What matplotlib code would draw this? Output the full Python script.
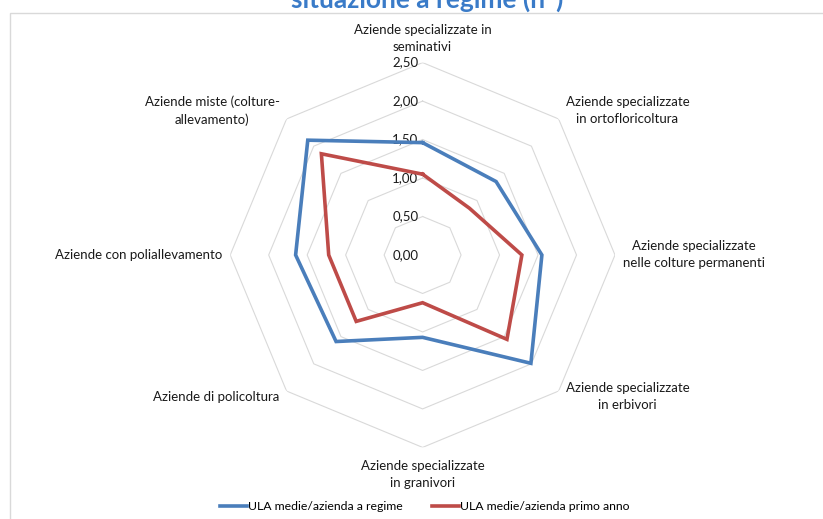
import numpy as np
import matplotlib
matplotlib.use("Agg")
import matplotlib.pyplot as plt
from matplotlib.patches import Rectangle
from matplotlib.transforms import offset_copy

plt.rcParams['font.family'] = ['Lato', 'DejaVu Sans']

categories = [
    "Aziende specializzate in\nseminativi",
    "Aziende specializzate\nin ortofloricoltura",
    "Aziende specializzate\nnelle colture permanenti",
    "Aziende specializzate\nin erbivori",
    "Aziende specializzate\nin granivori",
    "Aziende di policoltura",
    "Aziende con poliallevamento",
    "Aziende miste (colture-\nallevamento)",
]
ula_regime = [1.46, 1.35, 1.55, 1.99, 1.07, 1.59, 1.65, 2.11]
ula_primo_anno = [1.05, 0.86, 1.29, 1.55, 0.62, 1.22, 1.22, 1.86]
ring_values = [0.0, 0.5, 1.0, 1.5, 2.0, 2.5]
ring_labels = ["0,00", "0,50", "1,00", "1,50", "2,00", "2,50"]
series_names = ["ULA medie/azienda a regime", "ULA medie/azienda primo anno"]

BLUE = "#4A7EBB"
RED = "#BE4B48"
GRID = "#D9D9D9"
TEXT = "#1A1A1A"

W, H = 823, 519
fig = plt.figure(figsize=(W / 100, H / 100), dpi=100)

# chart area border (cut off at the right/bottom like the screenshot)
fig.patches.append(Rectangle((10 / W, -0.05), 1.1, 1 - 13 / H + 0.05,
                             transform=fig.transFigure, fill=False,
                             edgecolor="#D9D9D9", linewidth=1.0))

# only the lower half of the title is visible in the source image
fig.text(427 / W, 1 - 8 / H, "situazione a regime (n°)", ha="center",
         va="baseline", fontsize=19, fontweight="bold", color="#3A7BC8")

cx, cy, rad = 422.6, 255.0, 192.4
ax = fig.add_axes([(cx - rad) / W, 1 - (cy + rad) / H, 2 * rad / W, 2 * rad / H],
                  projection="polar")
ax.set_theta_zero_location("N")
ax.set_theta_direction(-1)
ax.set_ylim(0, 2.5)
ax.grid(False)
ax.spines["polar"].set_visible(False)
ax.set_xticks([])
ax.set_yticks([])
ax.patch.set_alpha(0)

n = len(categories)
angles = np.linspace(0, 2 * np.pi, n, endpoint=False)
closed = np.append(angles, angles[0])

for r in ring_values[1:]:
    ax.plot(closed, [r] * (n + 1), color=GRID, linewidth=0.8, zorder=1)

for r, lab in zip(ring_values, ring_labels):
    tr = offset_copy(ax.transData, fig=fig, x=-3, y=0, units="points")
    ax.text(0, r, lab, transform=tr, ha="right", va="center",
            fontsize=9.5, color=TEXT)

ax.plot(closed, ula_regime + ula_regime[:1], color=BLUE, linewidth=2.6,
        label=series_names[0], zorder=3, solid_joinstyle="miter")
ax.plot(closed, ula_primo_anno + ula_primo_anno[:1], color=RED, linewidth=2.6,
        label=series_names[1], zorder=3, solid_joinstyle="miter")

# category labels placed just outside the outer ring
label_cfg = [
    (0, 7, "center", "bottom"),
    (5, 6, "left", "center"),
    (6, 0, "left", "center"),
    (5, -4, "left", "center"),
    (0, -9, "center", "top"),
    (-5, -4, "right", "center"),
    (-6, 0, "right", "center"),
    (-5, 6, "right", "center"),
]
for ang, lab, (dx, dy, ha, va) in zip(angles, categories, label_cfg):
    tr = offset_copy(ax.transData, fig=fig, x=dx, y=dy, units="points")
    ax.text(ang, 2.5, lab, transform=tr, ha=ha, va=va, fontsize=9.5,
            color=TEXT, multialignment="center", linespacing=1.5)

fig.legend(loc="center", bbox_to_anchor=(425 / W, 1 - 507 / H), ncol=2,
           frameon=False, fontsize=8.8, handlelength=2.2, handletextpad=0.1,
           columnspacing=2.4)

fig.savefig("out.png", dpi=100)
